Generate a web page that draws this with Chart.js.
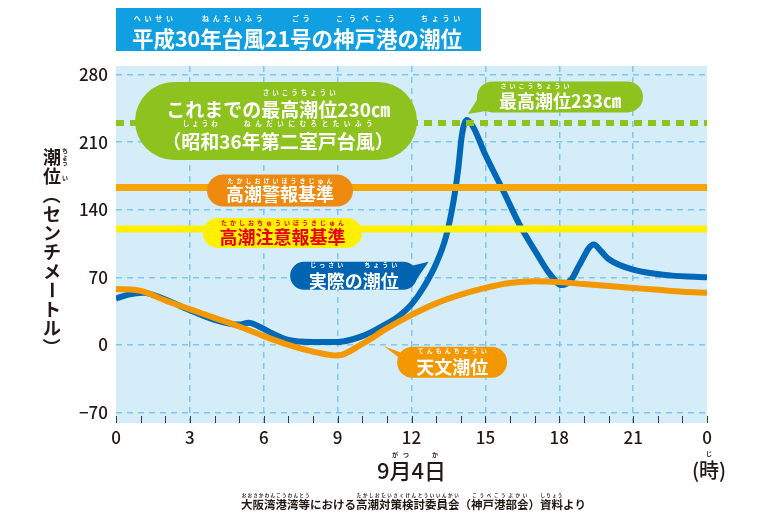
<!DOCTYPE html>
<html>
<head>
<meta charset="utf-8">
<script src="https://cdn.jsdelivr.net/npm/chart.js@4.4.1/dist/chart.umd.min.js"></script>
<style>
html, body { margin: 0; padding: 0; background: #fff; }
#wrap { width: 760px; height: 520px; }
</style>
</head>
<body>
<div id="wrap"><canvas id="tideChart" width="760" height="520"></canvas></div>
<script>
const FONT = '"Noto Sans CJK JP", "Noto Sans", sans-serif';

// 実際の潮位 (9月4日, 時 / cm)
const actualHours  = [0, 0.5, 1.1, 2, 3, 4, 5, 5.4, 5.8, 6.5, 7, 8, 9, 9.5, 10, 10.5, 11, 11.5, 12, 12.5, 13, 13.4, 13.7, 13.9, 14.05, 14.25, 14.5, 15, 15.7, 16.4, 17.1, 17.6, 18.1, 18.5, 18.8, 19.4, 19.7, 20, 21, 22.5, 24];
const actualLevels = [48, 52, 54, 47, 36, 26, 21, 23, 19, 10, 5, 3, 3, 5, 9, 15, 22, 30, 42, 60, 84, 112, 148, 183, 218, 233, 226, 197, 161, 124, 94, 74, 62, 68, 82, 104, 97, 89, 78, 72, 70];

// 天文潮位
const astroHours  = [0, 1, 2, 3, 4, 5, 6, 7, 8, 9, 10, 11, 12, 13, 14, 15, 16, 17, 18, 19, 20, 21, 22, 23, 24];
const astroLevels = [58, 56, 46, 37, 28, 19, 9, 0, -7, -11, 1, 17, 31, 43, 52, 59, 64, 66, 65, 63, 61, 59, 57, 55, 54];

// 基準線
const recordLevel  = 230;  // これまでの最高潮位
const warnLevel    = 163;  // 高潮警報基準
const cautionLevel = 120;  // 高潮注意報基準

const yTickValues = [-70, 0, 70, 140, 210, 280];
const xTickStep = 3;

function toPoints(xs, ys)
{
    return xs.map((x, i) => ({ x: x, y: ys[i] }));
}

function flatLine(level)
{
    return [{ x: 0, y: level }, { x: 24, y: level }];
}

// 文字列＋ふりがな  segs = [[本文, ルビ], ...]
function drawRuby(ctx, segs, cx, cy, o)
{
    ctx.save();
    ctx.textBaseline = 'middle';
    const mainFont = (o.weight || 'bold') + ' ' + o.size + 'px ' + FONT;
    ctx.font = mainFont;
    const widths = segs.map(s => ctx.measureText(s[0]).width);
    const total = widths.reduce((a, b) => a + b, 0);
    let x = cx - total / 2;
    segs.forEach((s, i) =>
    {
        ctx.font = mainFont;
        ctx.textAlign = 'left';
        ctx.fillStyle = o.color;
        ctx.fillText(s[0], x, cy);
        if (s[1])
        {
            ctx.font = 'bold ' + o.rsize + 'px ' + FONT;
            ctx.textAlign = 'center';
            ctx.fillStyle = o.rcolor || o.color;
            const chars = Array.from(s[1]);
            chars.forEach((c, k) =>
            {
                ctx.fillText(c, x + widths[i] * (k + 0.5) / chars.length, cy - o.roff);
            });
        }
        x += widths[i];
    });
    ctx.restore();
}

function bubble(ctx, cx, cy, w, h, color, tail)
{
    ctx.save();
    ctx.fillStyle = color;
    ctx.beginPath();
    ctx.roundRect(cx - w / 2, cy - h / 2, w, h, h / 2);
    ctx.fill();
    if (tail)
    {
        ctx.beginPath();
        ctx.moveTo(cx + tail[0][0], cy + tail[0][1]);
        ctx.lineTo(cx + tail[1][0], cy + tail[1][1]);
        ctx.lineTo(cx + tail[2][0], cy + tail[2][1]);
        ctx.closePath();
        ctx.fill();
    }
    ctx.restore();
}

const backgroundPlugin = {
    id: 'plotBackground',
    beforeDraw(chart)
    {
        const { ctx, chartArea: { left, top, width, height } } = chart;
        ctx.save();
        ctx.fillStyle = '#d5ecf9';
        ctx.fillRect(left, top, width, height);
        ctx.restore();
    },
    beforeDatasetsDraw(chart)
    {
        // 1時間ごとの目盛り
        const { ctx, chartArea: { bottom } } = chart;
        const xs = chart.scales.x;
        ctx.save();
        ctx.strokeStyle = '#3a3a3a';
        ctx.lineWidth = 1;
        for (let h = 0; h <= 24; h++)
        {
            const px = Math.round(xs.getPixelForValue(h)) + 0.5;
            ctx.beginPath();
            ctx.moveTo(px, bottom - 7);
            ctx.lineTo(px, bottom);
            ctx.stroke();
        }
        ctx.restore();
    }
};

const labelsPlugin = {
    id: 'calloutLabels',
    afterDatasetsDraw(chart)
    {
        const { ctx } = chart;
        const px = v => chart.scales.x.getPixelForValue(v);
        const py = v => chart.scales.y.getPixelForValue(v);

        // これまでの最高潮位
        let cx = px(6.5), cy = py(232);
        bubble(ctx, cx, cy, 282, 78, '#8dc21f');
        drawRuby(ctx, [['これまでの', ''], ['最高潮位', 'さいこうちょうい'], ['230㎝', '']],
            cx + 2, cy - 11, { size: 19, rsize: 6.5, roff: 17, color: '#fff' });
        drawRuby(ctx, [['（', ''], ['昭和', 'しょうわ'], ['36', ''], ['年第二室戸台風', 'ねんだいにむろとたいふう'], ['）', '']],
            cx + 2, cy + 21, { size: 19, rsize: 6.5, roff: 18, color: '#fff' });

        // 高潮警報基準
        cx = px(6.66); cy = py(160);
        bubble(ctx, cx, cy, 146, 32, '#ed8a0f');
        drawRuby(ctx, [['高潮', 'たかしお'], ['警報', 'けいほう'], ['基準', 'きじゅん']],
            cx, cy + 4, { size: 18, rsize: 6, roff: 14, color: '#fff' });

        // 高潮注意報基準
        cx = px(6.76); cy = py(116);
        bubble(ctx, cx, cy, 159, 30, '#fff000');
        drawRuby(ctx, [['高潮', 'たかしお'], ['注意報', 'ちゅういほう'], ['基準', 'きじゅん']],
            cx, cy + 4, { size: 18, rsize: 6, roff: 14, color: '#e60012' });

        // 実際の潮位
        cx = px(9.65); cy = py(71.5);
        bubble(ctx, cx, cy, 127, 28, '#0064b2', [[50, -8], [60, 8], [75, -14]]);
        drawRuby(ctx, [['実際', 'じっさい'], ['の', ''], ['潮位', 'ちょうい']],
            cx, cy + 5, { size: 18, rsize: 6, roff: 16, color: '#fff' });

        // 天文潮位
        cx = px(13.65); cy = py(-18);
        bubble(ctx, cx, cy, 110, 31, '#f39800', [[-52, -10], [-42, 4], [-68, -16]]);
        drawRuby(ctx, [['天文潮位', 'てんもんちょうい']],
            cx, cy + 5, { size: 18, rsize: 6, roff: 16, color: '#fff' });

        // 最高潮位233㎝
        cx = px(18.03); cy = py(257);
        bubble(ctx, cx, cy, 166, 31, '#8dc21f', [[-80, -2], [-62, 12], [-92, 17]]);
        drawRuby(ctx, [['最高潮位', 'さいこうちょうい'], ['233㎝', '']],
            cx, cy + 4, { size: 18, rsize: 6, roff: 15, color: '#fff' });
    },
    afterDraw(chart)
    {
        const { ctx, chartArea: { left, right, bottom } } = chart;

        // タイトル
        ctx.save();
        ctx.fillStyle = '#10a0e2';
        ctx.fillRect(116, 8, 365, 43);
        ctx.restore();
        drawRuby(ctx, [['平成', 'へいせい'], ['30', ''], ['年台風', 'ねんたいふう'], ['21', ''], ['号', 'ごう'], ['の', ''], ['神戸港', 'こうべこう'], ['の', ''], ['潮位', 'ちょうい']],
            297, 39, { size: 21.5, rsize: 7, roff: 21, color: '#fff' });

        // 縦軸タイトル
        const chars = Array.from('潮位（センチメートル）');
        ctx.save();
        ctx.fillStyle = '#231815';
        ctx.font = 'bold 18px ' + FONT;
        ctx.textAlign = 'center';
        ctx.textBaseline = 'middle';
        chars.forEach((c, i) =>
        {
            const y = 157 + i * 19;
            if ('（）ー'.includes(c))
            {
                ctx.save();
                ctx.translate(52, y);
                ctx.rotate(Math.PI / 2);
                ctx.fillText(c, 0, 0);
                ctx.restore();
            }
            else
            {
                ctx.fillText(c, 52, y);
            }
        });
        ctx.font = 'bold 6px ' + FONT;
        ['ち', 'ょ', 'う'].forEach((c, i) => ctx.fillText(c, 65, 151 + i * 6));
        ctx.fillText('い', 65, 178);
        ctx.restore();

        // 日付・単位・出典
        const mid = (left + right) / 2;
        drawRuby(ctx, [['9', ''], ['月', 'がつ'], ['4', ''], ['日', 'か']],
            mid, bottom + 48, { size: 22, weight: '500', rsize: 6, roff: 16, color: '#231815' });
        drawRuby(ctx, [['(', ''], ['時', 'じ'], [')', '']],
            right + 2, bottom + 47, { size: 20, weight: '500', rsize: 6, roff: 16, color: '#231815' });
        drawRuby(ctx, [['大阪湾港湾等', 'おおさかわんこうわんとう'], ['における', ''], ['高潮対策検討委員会', 'たかしおたいさくけんとういいんかい'],
            ['（', ''], ['神戸港部会', 'こうべこうぶかい'], ['）', ''], ['資料', 'しりょう'], ['より', '']],
            mid + 2, bottom + 82, { size: 11.5, weight: 'bold', rsize: 4.5, roff: 10, color: '#231815' });
    }
};

const ctx = document.getElementById('tideChart').getContext('2d');
const tideChart = new Chart(ctx, {
    type: 'line',
    data: {
        datasets: [
            {
                label: 'これまでの最高潮位',
                data: flatLine(recordLevel),
                borderColor: '#8dc21f',
                borderWidth: 6,
                borderDash: [8, 6]
            },
            {
                label: '高潮警報基準',
                data: flatLine(warnLevel),
                borderColor: '#f6a600',
                borderWidth: 7
            },
            {
                label: '高潮注意報基準',
                data: flatLine(cautionLevel),
                borderColor: '#fff000',
                borderWidth: 7
            },
            {
                label: '天文潮位',
                data: toPoints(astroHours, astroLevels),
                borderColor: '#f39800',
                borderWidth: 6,
                cubicInterpolationMode: 'monotone'
            },
            {
                label: '実際の潮位',
                data: toPoints(actualHours, actualLevels),
                borderColor: '#0068b6',
                borderWidth: 6,
                borderJoinStyle: 'round',
                cubicInterpolationMode: 'monotone'
            }
        ]
    },
    options: {
        responsive: false,
        devicePixelRatio: 1,
        animation: false,
        layout: { padding: { top: 66, right: 53, bottom: 0, left: 0 } },
        elements: { point: { radius: 0 }, line: { fill: false } },
        plugins: {
            legend: { display: false },
            tooltip: { enabled: false },
            title: { display: false }
        },
        scales: {
            x: {
                type: 'linear',
                min: 0,
                max: 24,
                afterFit(scale) { scale.height = 97; },
                ticks: {
                    stepSize: xTickStep,
                    autoSkip: false,
                    maxRotation: 0,
                    padding: 4,
                    color: '#231815',
                    font: { family: FONT, size: 17, weight: '500' },
                    callback: v => v % 24
                },
                grid: {
                    drawTicks: false,
                    lineWidth: 1.5,
                    color: c => (c.tick && (c.tick.value === 0 || c.tick.value === 24)) ? 'rgba(0,0,0,0)' : '#7cc8ef'
                },
                border: { display: false, dash: [6, 5] }
            },
            y: {
                min: -81,
                max: 289,
                afterFit(scale) { scale.width = 116; },
                afterBuildTicks(scale) { scale.ticks = yTickValues.map(v => ({ value: v })); },
                ticks: {
                    padding: 8,
                    color: '#231815',
                    font: { family: FONT, size: 17, weight: '500' },
                    callback: v => (v < 0 ? '−' + Math.abs(v) : v)
                },
                grid: {
                    drawTicks: false,
                    lineWidth: 1.5,
                    color: '#7cc8ef'
                },
                border: { display: false, dash: [6, 5] }
            }
        }
    },
    plugins: [backgroundPlugin, labelsPlugin]
});
</script>
</body>
</html>
